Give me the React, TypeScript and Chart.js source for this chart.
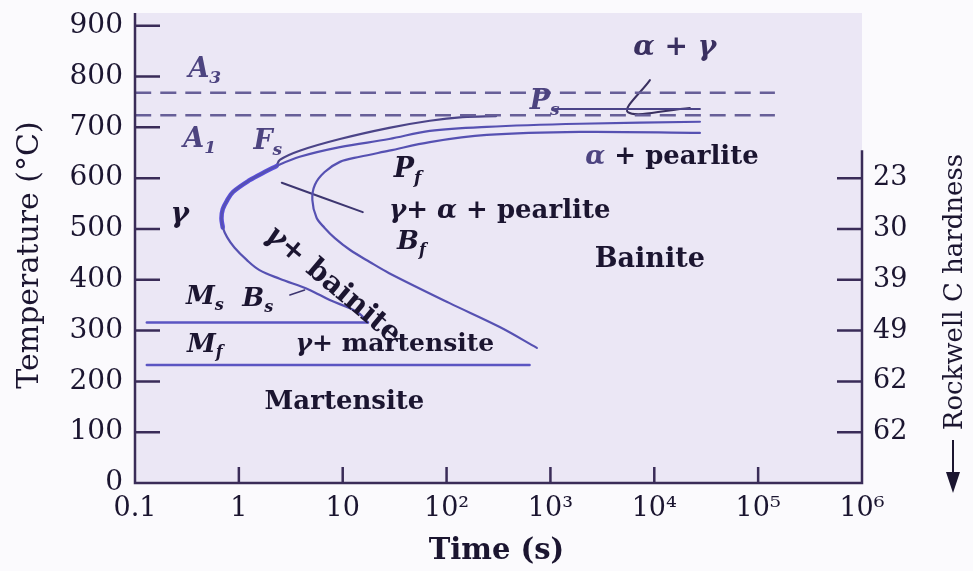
import { useEffect, useRef } from "react";
import { Chart, registerables } from "chart.js";

Chart.register(...registerables);

// ---------- axis ticks ----------
const xTickValues = [0.1, 1, 10, 100, 1000, 10000, 100000, 1000000];
const xTickLabels = ["0.1", "1", "10", "10²", "10³", "10⁴", "10⁵", "10⁶"];
const yTickValues = [0, 100, 200, 300, 400, 500, 600, 700, 800, 900];
const hardnessTickValues = [600, 500, 400, 300, 200, 100];
const hardnessLabels = ["23", "30", "39", "49", "62", "62"];

// ---------- series (time in s, temperature in °C) ----------
const startCurveTime = [17.5, 14.6, 11.7, 7.5, 4.8, 2.47, 1.58, 1.19, 0.91, 0.77, 0.7, 0.68, 0.7, 0.77, 0.88, 1.27, 1.77, 2.31, 3.85, 9.4, 28, 69, 244, 1920, 27500];
const startCurveTemp = [316, 333, 344, 360, 380, 402, 419, 439, 463, 484, 503, 521, 539, 556, 573, 596, 612, 624, 642, 661, 677, 693, 701, 707, 711];

const noseTime = [0.7, 0.68, 0.7, 0.77, 0.88, 1.27, 1.77, 2.31];
const noseTemp = [503, 521, 539, 556, 573, 596, 612, 624];

const ferriteStartTime = [2.31, 2.48, 3.85, 9.4, 28, 69, 143, 300];
const ferriteStartTemp = [624, 636, 654, 677, 699, 713, 720, 722];

const finishCurveTime = [27500, 1920, 244, 69, 28, 14.6, 9.4, 6.7, 5.4, 5.1, 5.6, 6.7, 8.4, 11.7, 18.2, 28, 107, 325, 740];
const finishCurveTemp = [689, 691, 685, 671, 654, 642, 632, 612, 587, 557, 522, 502, 482, 459, 435, 413, 354, 307, 266];

const msTime = [0.13, 17.5];
const msTemp = [316, 316];
const mfTime = [0.13, 630];
const mfTemp = [232, 232];

const a3Time = [0.1, 145000];
const a3Temp = [768, 768];
const a1Time = [0.1, 145000];
const a1Temp = [724, 724];

const psLineTime = [1100, 27500];
const psLineTemp = [736, 736];

const alphaGammaPointerTime = [9080, 5560, 22000];
const alphaGammaPointerTemp = [793, 730, 738];
const pearlitePointerTime = [2.59, 15.6];
const pearlitePointerTemp = [591, 533];
const bsPointerTime = [3.1, 4.3];
const bsPointerTemp = [370, 380];

// ---------- region labels (time, temperature) ----------
type Part = { s: string; sub?: boolean; italic?: boolean; color?: string };
type Label = { parts: Part[]; t: number; T: number; color: string; size: number; rot?: number };

const PURPLE = "#4d4480";
const DARK = "#1b1530";

const regionLabels: Label[] = [
  { parts: [{ s: "A", italic: true }, { s: "3", sub: true, italic: true }], t: 0.47, T: 813, color: PURPLE, size: 27 },
  { parts: [{ s: "A", italic: true }, { s: "1", sub: true, italic: true }], t: 0.42, T: 675, color: PURPLE, size: 27 },
  { parts: [{ s: "F", italic: true }, { s: "s", sub: true, italic: true }], t: 1.9, T: 671, color: PURPLE, size: 27 },
  { parts: [{ s: "P", italic: true }, { s: "s", sub: true, italic: true }], t: 880, T: 750, color: PURPLE, size: 27 },
  { parts: [{ s: "α + γ", italic: true }], t: 15700, T: 856, color: "#3a3060", size: 28 },
  { parts: [{ s: "α", italic: true, color: PURPLE }, { s: " + pearlite" }], t: 14800, T: 642, color: DARK, size: 26 },
  { parts: [{ s: "P", italic: true }, { s: "f", sub: true, italic: true }], t: 42, T: 616, color: DARK, size: 27 },
  { parts: [{ s: "γ", italic: true }, { s: "+ " }, { s: "α", italic: true }, { s: " + pearlite" }], t: 325, T: 535, color: DARK, size: 26 },
  { parts: [{ s: "γ", italic: true }], t: 0.27, T: 528, color: DARK, size: 28 },
  { parts: [{ s: "B", italic: true }, { s: "f", sub: true, italic: true }], t: 46, T: 474, color: DARK, size: 26 },
  { parts: [{ s: "Bainite" }], t: 9060, T: 439, color: DARK, size: 27 },
  { parts: [{ s: "γ", italic: true }, { s: "+ bainite" }], t: 8.0, T: 390, color: DARK, size: 29, rot: 40 },
  { parts: [{ s: "M", italic: true }, { s: "s", sub: true, italic: true }], t: 0.47, T: 366, color: DARK, size: 26 },
  { parts: [{ s: "B", italic: true }, { s: "s", sub: true, italic: true }], t: 1.52, T: 362, color: DARK, size: 26 },
  { parts: [{ s: "M", italic: true }, { s: "f", sub: true, italic: true }], t: 0.47, T: 272, color: DARK, size: 26 },
  { parts: [{ s: "γ", italic: true }, { s: "+ martensite" }], t: 31.8, T: 272, color: DARK, size: 25 },
  { parts: [{ s: "Martensite" }], t: 10.4, T: 159, color: DARK, size: 26 },
];

const FONT = '"DejaVu Serif", "Liberation Serif", serif';
const AXIS_COLOR = "#3a2c58";

function pts(xs: number[], ys: number[]) {
  return xs.map((x, i) => ({ x, y: ys[i] }));
}

function drawRich(ctx: CanvasRenderingContext2D, parts: Part[], x: number, y: number, size: number, color: string) {
  const fonts = parts.map((p) => {
    const fs = p.sub ? Math.round(size * 0.62) : size;
    return `${p.italic ? "italic " : ""}bold ${fs}px ${FONT}`;
  });
  const widths = parts.map((p, i) => {
    ctx.font = fonts[i];
    return ctx.measureText(p.s).width;
  });
  const total = widths.reduce((a, b) => a + b, 0);
  let cx = x - total / 2;
  ctx.textBaseline = "middle";
  ctx.textAlign = "left";
  parts.forEach((p, i) => {
    ctx.font = fonts[i];
    ctx.fillStyle = p.color || color;
    ctx.fillText(p.s, cx, p.sub ? y + size * 0.32 : y);
    cx += widths[i];
  });
}

const decorPlugin = {
  id: "decor",
  beforeDraw(chart: any) {
    const { ctx, chartArea: a, width, height } = chart;
    ctx.save();
    ctx.fillStyle = "#fbfafd";
    ctx.fillRect(0, 0, width, height);
    ctx.fillStyle = "#ebe7f5";
    ctx.fillRect(a.left, a.top, a.right - a.left, a.bottom - a.top);
    ctx.restore();
  },
  afterDraw(chart: any) {
    const { ctx, chartArea: a, scales } = chart;
    const xs = scales.x;
    const ys = scales.y;
    ctx.save();
    // axes
    ctx.strokeStyle = AXIS_COLOR;
    ctx.lineWidth = 2.5;
    ctx.beginPath();
    ctx.moveTo(a.left, a.top);
    ctx.lineTo(a.left, a.bottom);
    ctx.lineTo(a.right, a.bottom);
    ctx.lineTo(a.right, ys.getPixelForValue(655));
    ctx.stroke();
    // inner ticks
    ctx.beginPath();
    yTickValues.forEach((v) => {
      if (v === 0) return;
      const py = ys.getPixelForValue(v);
      ctx.moveTo(a.left, py);
      ctx.lineTo(a.left + 25, py);
    });
    hardnessTickValues.forEach((v) => {
      const py = ys.getPixelForValue(v);
      ctx.moveTo(a.right, py);
      ctx.lineTo(a.right - 25, py);
    });
    xTickValues.slice(1, -1).forEach((v) => {
      const px = xs.getPixelForValue(v);
      ctx.moveTo(px, a.bottom);
      ctx.lineTo(px, a.bottom - 16);
    });
    ctx.stroke();

    // region labels
    regionLabels.forEach((l) => {
      const px = xs.getPixelForValue(l.t);
      const py = ys.getPixelForValue(l.T);
      ctx.save();
      ctx.translate(px, py);
      if (l.rot) ctx.rotate((l.rot * Math.PI) / 180);
      drawRich(ctx, l.parts, 0, 0, l.size, l.color);
      ctx.restore();
    });

    // axis titles
    ctx.fillStyle = DARK;
    ctx.textAlign = "center";
    ctx.textBaseline = "middle";
    ctx.font = `bold 29px ${FONT}`;
    ctx.fillText("Time (s)", (a.left + a.right) / 2 - 2, 551);

    ctx.save();
    ctx.translate(30, 255);
    ctx.rotate(-Math.PI / 2);
    ctx.font = `30px ${FONT}`;
    ctx.fillText("Temperature (°C)", 0, 0);
    ctx.restore();

    ctx.save();
    ctx.translate(955, 292);
    ctx.rotate(-Math.PI / 2);
    ctx.font = `26px ${FONT}`;
    ctx.fillText("Rockwell C hardness", 0, 0);
    ctx.restore();
    // arrow
    ctx.strokeStyle = DARK;
    ctx.lineWidth = 2;
    ctx.beginPath();
    ctx.moveTo(953, 440);
    ctx.lineTo(953, 478);
    ctx.stroke();
    ctx.fillStyle = DARK;
    ctx.beginPath();
    ctx.moveTo(946, 472);
    ctx.lineTo(960, 472);
    ctx.lineTo(953, 493);
    ctx.closePath();
    ctx.fill();
    ctx.restore();
  },
};

function line(data: { x: number; y: number }[], color: string, width: number, dash: number[] = []) {
  return {
    data,
    borderColor: color,
    borderWidth: width,
    borderDash: dash,
    borderCapStyle: "round",
    pointRadius: 0,
    fill: false,
    tension: 0.35,
    showLine: true,
  };
}

const noVertPad = (s: any) => {
  s.paddingTop = 0;
  s.paddingBottom = 0;
};

export default function App() {
  const ref = useRef<HTMLCanvasElement>(null);
  useEffect(() => {
    if (!ref.current) return;
    const CURVE = "#5651b2";
    const chart = new Chart(ref.current, {
      type: "scatter",
      data: {
        datasets: [
          { ...line(pts(a3Time, a3Temp), "#675f98", 2.5, [16, 9]), borderCapStyle: "butt" },
          { ...line(pts(a1Time, a1Temp), "#675f98", 2.5, [16, 9]), borderCapStyle: "butt" },
          line(pts(startCurveTime, startCurveTemp), CURVE, 2.2),
          line(pts(noseTime, noseTemp), "#5a4fdc", 4.5),
          line(pts(ferriteStartTime, ferriteStartTemp), "#4b4488", 2.2),
          line(pts(finishCurveTime, finishCurveTemp), CURVE, 2.2),
          line(pts(msTime, msTemp), "#5b55c2", 2.5),
          line(pts(mfTime, mfTemp), "#5b55c2", 2.5),
          line(pts(psLineTime, psLineTemp), "#4b4488", 2),
          line(pts(alphaGammaPointerTime, alphaGammaPointerTemp), "#3a3060", 2),
          line(pts(pearlitePointerTime, pearlitePointerTemp), "#3d3670", 2),
          line(pts(bsPointerTime, bsPointerTemp), "#3d3670", 1.5),
        ] as any,
      },
      options: {
        animation: false,
        responsive: true,
        maintainAspectRatio: false,
        layout: { padding: { left: 0, right: 0, top: 13, bottom: 0 } },
        plugins: { legend: { display: false }, tooltip: { enabled: false } },
        scales: {
          x: {
            type: "logarithmic",
            min: 0.1,
            max: 1000000,
            position: "bottom",
            afterBuildTicks: (s: any) => {
              s.ticks = xTickValues.map((v) => ({ value: v }));
            },
            afterFit: (s: any) => {
              s.height = 88;
            },
            grid: { display: false, drawTicks: false },
            border: { display: false },
            ticks: {
              autoSkip: false,
              maxRotation: 0,
              padding: 10,
              color: DARK,
              font: { family: FONT, size: 27 },
              callback: (_v: any, i: number) => xTickLabels[i],
            },
          },
          y: {
            type: "linear",
            min: 0,
            max: 925,
            position: "left",
            afterBuildTicks: (s: any) => {
              s.ticks = yTickValues.map((v) => ({ value: v }));
            },
            afterFit: (s: any) => {
              s.width = 135;
              noVertPad(s);
            },
            grid: { display: false, drawTicks: false },
            border: { display: false },
            ticks: {
              padding: 12,
              color: DARK,
              font: { family: FONT, size: 28 },
              callback: (v: any) => String(v),
            },
          },
          y2: {
            type: "linear",
            min: 0,
            max: 925,
            position: "right",
            afterBuildTicks: (s: any) => {
              s.ticks = hardnessTickValues.map((v) => ({ value: v }));
            },
            afterFit: (s: any) => {
              s.width = 111;
              noVertPad(s);
            },
            grid: { display: false, drawTicks: false },
            border: { display: false },
            ticks: {
              padding: 11,
              color: DARK,
              font: { family: FONT, size: 27 },
              callback: (_v: any, i: number) => hardnessLabels[i],
            },
          },
        },
      } as any,
      plugins: [decorPlugin],
    });
    return () => chart.destroy();
  }, []);

  return (
    <div style={{ position: "fixed", left: 0, top: 0, width: 973, height: 571 }}>
      <canvas ref={ref} />
    </div>
  );
}
